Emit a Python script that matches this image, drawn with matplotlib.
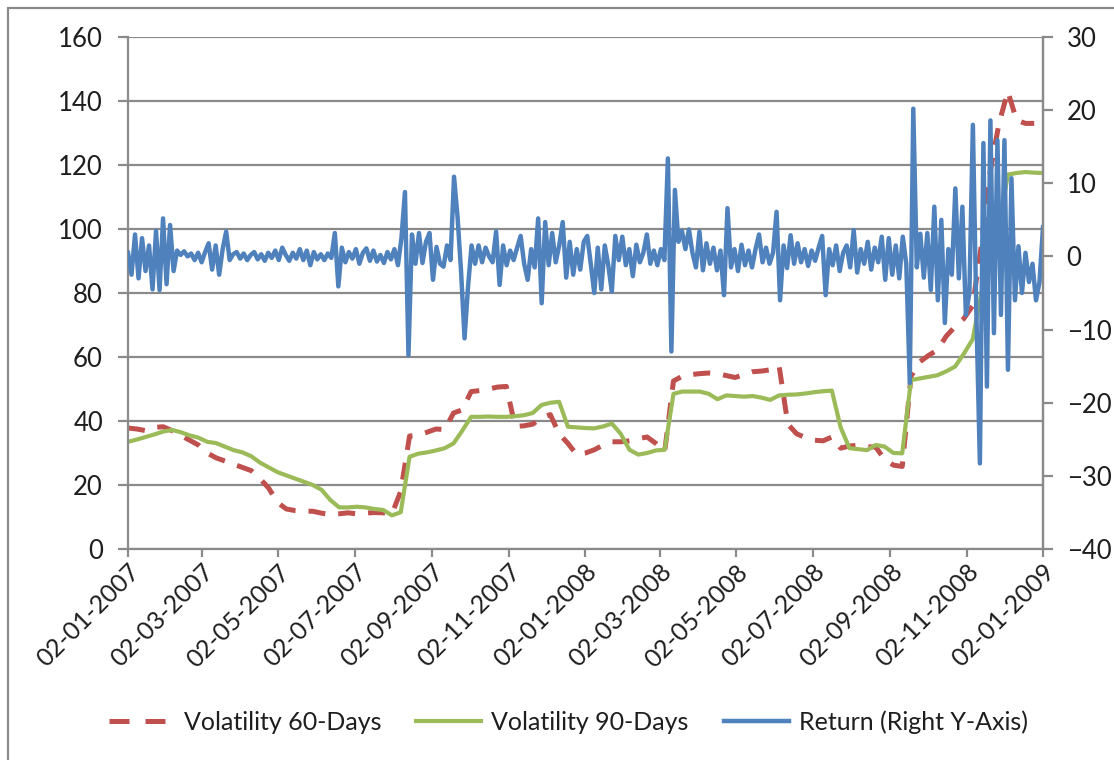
import matplotlib.pyplot as plt
import matplotlib.patches as patches
from matplotlib.lines import Line2D
import pandas as pd

plt.rcParams["font.family"] = ["Lato", "DejaVu Sans"]

start, end = "2007-01-02", "2009-01-02"

# weekly rolling volatility (left axis)
vol60 = [37.8, 37.5, 37.0, 38.0, 38.2, 37.0, 35.5, 34.0, 32.5, 30.0,
         28.5, 27.5, 26.5, 25.5, 24.5, 22.0, 19.0, 14.5, 12.5, 12.0,
         11.8, 11.8, 11.2, 10.8, 11.0, 11.3, 11.0, 11.2, 11.4, 11.3,
         11.0, 18.0, 35.3, 35.6, 36.5, 37.5, 37.3, 42.5, 43.5, 49.2,
         49.5, 50.0, 50.6, 50.8, 38.3, 38.5, 39.0, 41.0, 42.0, 36.0,
         33.0, 29.5, 30.0, 31.0, 32.5, 33.5, 33.5, 33.8, 34.5, 35.0,
         33.0, 30.5, 52.5, 54.0, 54.5, 54.8, 55.0, 54.8, 54.2, 53.6,
         54.5, 55.4, 55.6, 56.0, 57.3, 39.0, 36.0, 34.8, 34.0, 33.8,
         35.0, 31.5, 32.2, 32.4, 32.0, 31.8, 28.0, 26.2, 25.8, 54.0,
         58.5, 60.5, 62.2, 66.5, 69.5, 72.0, 76.0, 95.0, 118.0, 133.0,
         143.0, 134.0, 133.0, 133.0]

vol90 = [33.5, 34.2, 35.0, 35.8, 36.7, 37.2, 36.5, 35.5, 34.8, 33.5,
         33.1, 32.0, 30.9, 30.2, 29.0, 27.0, 25.5, 24.0, 23.0, 22.0,
         21.0, 20.0, 18.5, 15.3, 13.0, 13.0, 13.2, 13.0, 12.5, 12.2,
         10.5, 11.5, 28.8, 29.8, 30.2, 30.8, 31.5, 33.0, 37.0, 41.3,
         41.3, 41.4, 41.3, 41.3, 41.5, 41.8, 42.5, 45.0, 45.7, 46.0,
         38.2, 38.0, 37.8, 37.7, 38.3, 39.2, 36.0, 31.0, 29.5, 30.0,
         30.8, 31.0, 48.5, 49.2, 49.2, 49.2, 48.5, 46.8, 48.0, 47.8,
         47.6, 47.8, 47.3, 46.6, 48.0, 48.2, 48.3, 48.6, 49.0, 49.3,
         49.5, 38.0, 31.5, 31.2, 30.9, 32.5, 32.0, 30.0, 29.9, 52.8,
         53.3, 53.8, 54.3, 55.5, 57.0, 61.0, 65.5, 80.0, 90.0, 100.0,
         117.0, 117.5, 117.8, 117.6, 117.5]

# return every second trading day (right axis)
ret = [
    # Jan - Feb 2007
    0.5, -2.5, 3.0, -3.0, 2.5, -2.0, 1.5, -4.5, 3.5, -4.6,
    5.2, -3.8, 4.3, -2.0, 0.8, 0.2, 0.7, 0.0, 0.4, -0.5, 0.5,
    # Mar 2007
    -0.8, 0.6, 1.8, -1.8, 1.5, -2.5, 1.0, 3.4, -0.5, 0.3,
    # Apr - Jun 2007
    0.6, -0.3, 0.4, -0.5, 0.2, 0.6, -0.4, 0.3, -0.6, 0.5,
    -0.2, 0.8, -0.5, 1.2, 0.2, -0.6, 0.5, -0.3, 1.0, -0.5,
    0.8, -1.2, 0.6, -0.4, 0.3, -0.5, 0.4, -0.2,
    # Jul - Aug 2007
    3.2, -4.1, 1.2, -0.8, 0.6, -0.3, 1.0, -1.0, 0.5, 1.1,
    -0.6, 0.8, -0.7, 0.2, -0.9, 0.6, -0.4, 1.0, -1.2,
    # Aug - Oct 2007
    2.5, 8.8, -13.5, 3.0, -1.0, 3.2, -0.9, 2.0, 3.2, -3.2,
    1.3, -1.0, -1.4, 1.5, -0.5, 10.9, 5.4, -2.0, -11.2, -4.1, 1.5,
    # Oct - Nov 2007
    -1.0, 1.5, -0.8, 1.2, 0.0, -0.8, 3.4, -3.9, 1.5, -1.2,
    0.8, -0.5, 1.2, 2.8, -1.0, -3.2, 1.0, -1.5,
    # Dec 2007 - Jan 2008
    5.2, -6.4, 4.7, -1.2, 3.2, -0.8, 1.5, 4.7, -2.9, 2.0,
    -2.5, 1.0, -1.8, 2.0, 2.8, -1.0, -5.0, 1.2,
    # Jan - Mar 2008
    -4.5, 1.5, -1.2, -4.8, 2.8, -0.5, 2.7, -1.2, 1.0, -2.7,
    1.6, -0.8, 0.5, 3.0, -1.0, 0.8, -1.2, 1.0, -0.5,
    # Mar - Apr 2008
    13.4, -13.0, 9.1, 2.0, 3.5, 1.0, 3.7, 0.5, -1.5, 3.4,
    -1.9, 1.8, -1.0, 1.2, -1.9, 0.8, -5.3, 6.6, -1.5, 1.0,
    # May - Jun 2008
    -2.0, 1.6, -1.2, 0.8, -1.5, 1.0, 3.0, -0.8, 1.2, -1.0,
    0.5, 6.1, -6.0, 1.5, -1.6, 2.9, -1.0, 1.8, -0.8, 1.0,
    # Jul - Aug 2008
    -1.3, 0.8, -0.6, 1.2, 2.8, -5.3, 1.0, -1.2, 1.5, -2.0,
    0.5, 1.5, -1.5, 3.6, -2.2, 1.0, -1.0, 2.0, -1.8, 1.2, -0.8,
    # Sep - Oct 2008
    2.7, -3.2, 2.5, -2.5, 1.5, -3.0, 2.7, -1.0, -17.3, 20.2,
    -1.5, 3.1, -2.9, 3.2, -4.6, 6.8, -6.0, 5.0, -9.1, 1.0,
    -2.5, 9.3, -3.0,
    # Oct - Dec 2008
    6.8, -8.0, -5.0, 18.0, -8.0, -28.3, 15.5, -17.8, 18.6, -10.5,
    15.9, -8.0, 15.9, -15.5, 10.7, -6.0, 1.4, -5.0, 0.5, -3.5,
    -1.0, -6.0, -3.5, 4.0,
]

vol_dates = pd.date_range(start, end, periods=len(vol90))
ret_dates = pd.date_range(start, end, periods=len(ret))
tick_dates = pd.date_range("2007-01-01", "2009-01-01", freq="2MS") + pd.Timedelta(days=1)

red = "#C0504D"
green = "#9BBB59"
blue = "#4F81BD"
grey = "#8A8A8A"
txt = "#1E1E1E"

fig = plt.figure(figsize=(11.14, 7.6), dpi=100)
fig.patches.append(patches.Rectangle((8 / 1114, -0.1), 1.2, 1.1 - 8 / 760,
                                     transform=fig.transFigure, fill=False,
                                     edgecolor=grey, linewidth=1.6))

ax = fig.add_axes([128 / 1114, 1 - 549 / 760, 915 / 1114, 512 / 760])
ax.plot(vol_dates[:len(vol60)], vol60, color=red, linewidth=3.6, dashes=(3.4, 2.6))
ax.plot(vol_dates, vol90, color=green, linewidth=3.0)
ax.set_ylim(0, 160)
ax.set_yticks(range(0, 161, 20))
ax.set_xlim(pd.Timestamp(start), pd.Timestamp(end))
ax.set_xticks(tick_dates)
ax.set_xticklabels([d.strftime("%d-%m-%Y") for d in tick_dates], rotation=45,
                   ha="right", va="top", rotation_mode="anchor")
ax.grid(axis="y", color=grey, linewidth=1.6)
ax.set_axisbelow(True)

ax2 = ax.twinx()
ax2.plot(ret_dates, ret, color=blue, linewidth=3.2)
ax2.set_ylim(-40, 30)
ax2.set_yticks(range(-40, 31, 10))

for a in (ax, ax2):
    a.spines["top"].set_visible(False)
    for s in a.spines.values():
        s.set_color(grey)
        s.set_linewidth(1.6)
ax2.spines["left"].set_visible(False)
ax2.spines["bottom"].set_visible(False)

ax.tick_params(axis="y", direction="out", length=7, width=1.6, color=grey,
               labelsize=18.5, labelcolor=txt, pad=11)
ax.tick_params(axis="x", direction="out", length=6, width=1.6, color=grey,
               labelsize=18, labelcolor=txt, pad=2)
ax2.tick_params(axis="y", direction="out", length=7, width=1.6, color=grey,
                labelsize=18.5, labelcolor=txt, pad=10)

handles = [
    Line2D([], [], color=red, linewidth=3.6, dashes=(4.0, 3.2)),
    Line2D([], [], color=green, linewidth=3.0),
    Line2D([], [], color=blue, linewidth=3.2),
]
labels = ["Volatility 60-Days", "Volatility 90-Days", "Return (Right Y-Axis)"]
fig.legend(handles, labels, loc="center", bbox_to_anchor=(0.51, 1 - 722 / 760),
           ncol=3, frameon=False, fontsize=18, handlelength=2.6,
           columnspacing=1.4, handletextpad=0.4, labelcolor=txt)

fig.savefig("out.png", dpi=100)
